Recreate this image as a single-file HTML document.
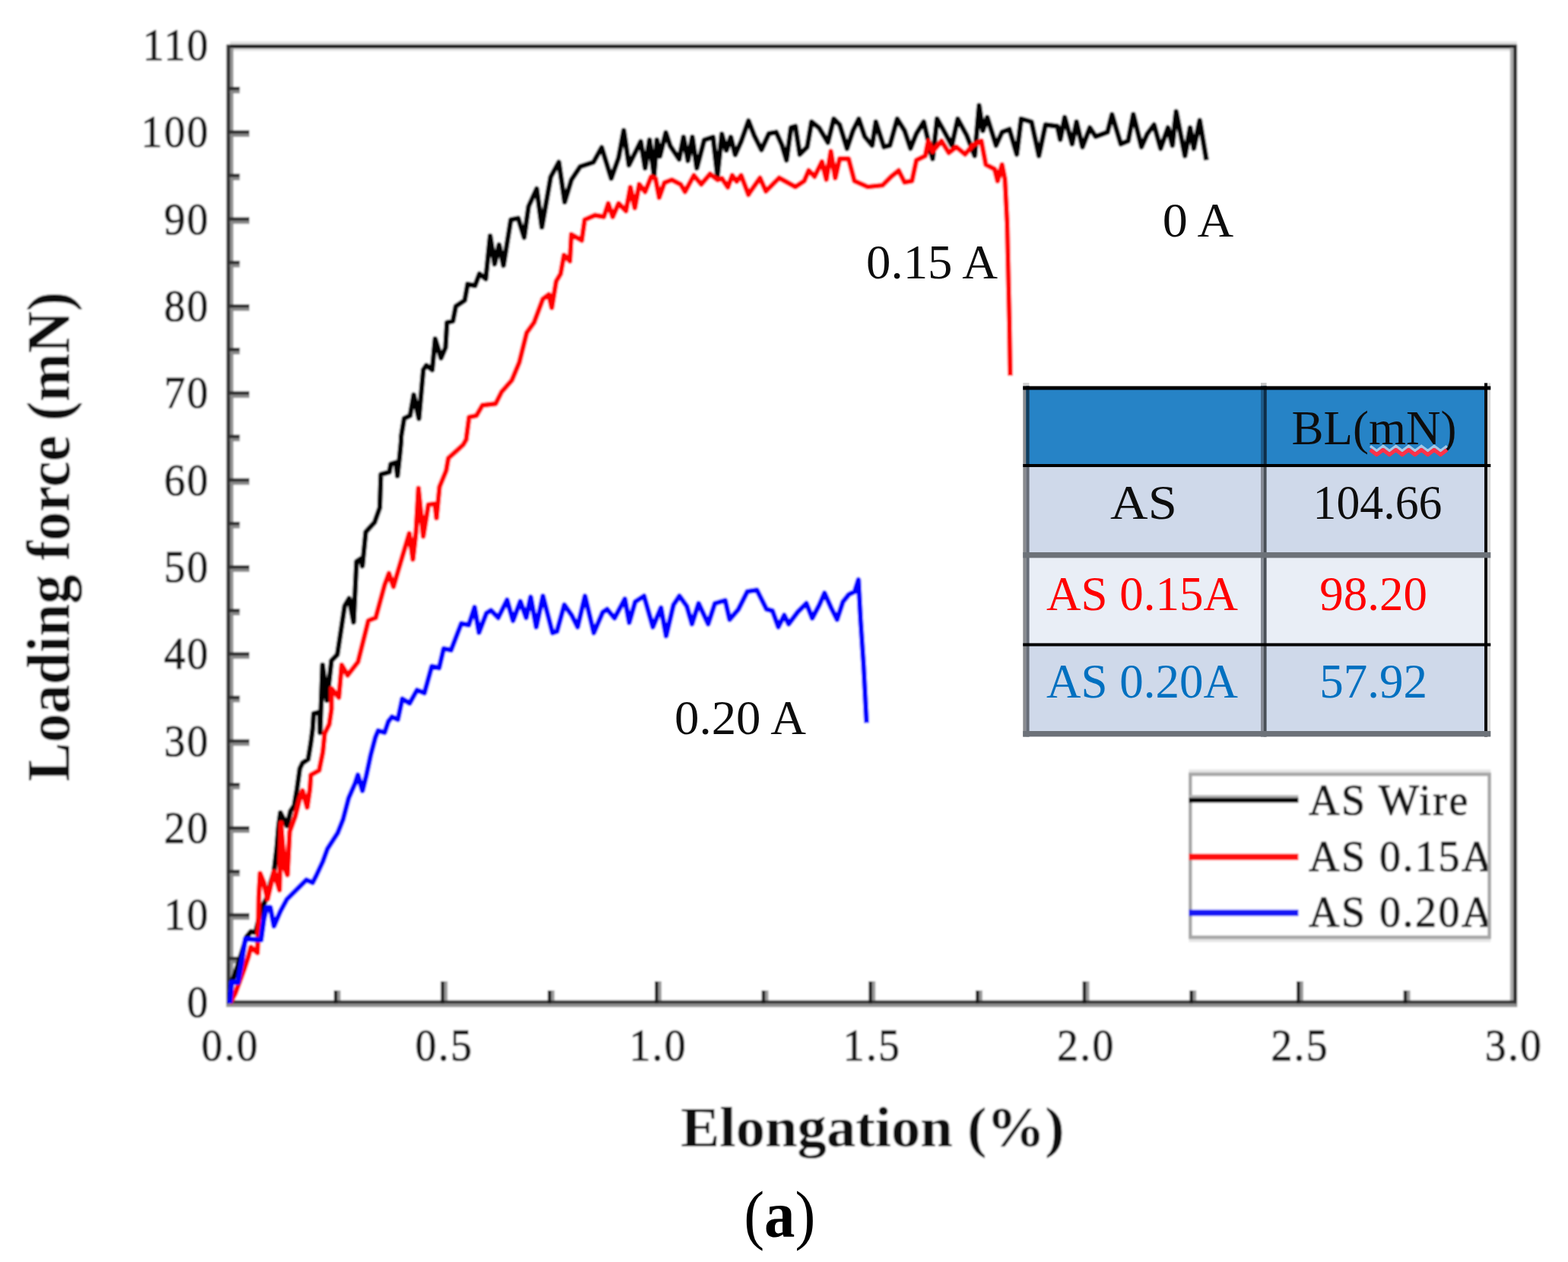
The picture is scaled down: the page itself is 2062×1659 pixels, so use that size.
<!DOCTYPE html>
<html lang="en"><head><meta charset="utf-8"><title>Loading force vs elongation</title>
<style>html,body{margin:0;padding:0;background:#fff;}body{width:2062px;height:1659px;overflow:hidden;}svg{display:block;}text{font-family:"Liberation Serif","DejaVu Serif",serif;}</style>
</head><body>
<svg width="2062" height="1659" viewBox="0 0 2062 1659">
<rect x="0" y="0" width="2062" height="1659" fill="#fff"/>
<defs><filter id="soft" x="0" y="0" width="2062" height="1659" filterUnits="userSpaceOnUse"><feGaussianBlur stdDeviation="1.2"/></filter><filter id="soft2" x="0" y="0" width="2062" height="1659" filterUnits="userSpaceOnUse"><feGaussianBlur stdDeviation="0.6"/></filter></defs>
<g id="chart" filter="url(#soft)">
<rect x="0" y="0" width="2062" height="1659" fill="#fff"/>
<g id="frame">
<rect x="302.5" y="54.5" width="1692.3" height="12.6" fill="#e2e2e2"/>
<rect x="298" y="58.6" width="1696.8" height="4.8" fill="#0c0c0c"/>
<rect x="302.5" y="62.9" width="4.5" height="1256" fill="#969696"/>
<rect x="297.7" y="59" width="5.1" height="1264.8" fill="#333"/>
<rect x="1985.8" y="62.9" width="4.7" height="1256" fill="#acacac"/>
<rect x="1990.2" y="59" width="4.9" height="1264.8" fill="#262626"/>
<rect x="298" y="1319.1" width="1696.8" height="4.9" fill="#939393"/>
<rect x="298" y="1314.9" width="1696.8" height="4.5" fill="#363636"/>
</g>
<g id="ticks">
<rect x="302.5" y="1262.1" width="12.8" height="4.3" fill="#8a8a8a"/>
<rect x="300" y="1257.7" width="15.3" height="4.6" fill="#2e2e2e"/>
<rect x="302.5" y="1204.9" width="25.5" height="4.3" fill="#8a8a8a"/>
<rect x="300" y="1200.5" width="28.0" height="4.6" fill="#2e2e2e"/>
<rect x="302.5" y="1147.8" width="12.8" height="4.3" fill="#8a8a8a"/>
<rect x="300" y="1143.4" width="15.3" height="4.6" fill="#2e2e2e"/>
<rect x="302.5" y="1090.6" width="25.5" height="4.3" fill="#8a8a8a"/>
<rect x="300" y="1086.2" width="28.0" height="4.6" fill="#2e2e2e"/>
<rect x="302.5" y="1033.4" width="12.8" height="4.3" fill="#8a8a8a"/>
<rect x="300" y="1029.0" width="15.3" height="4.6" fill="#2e2e2e"/>
<rect x="302.5" y="976.2" width="25.5" height="4.3" fill="#8a8a8a"/>
<rect x="300" y="971.8" width="28.0" height="4.6" fill="#2e2e2e"/>
<rect x="302.5" y="919.0" width="12.8" height="4.3" fill="#8a8a8a"/>
<rect x="300" y="914.6" width="15.3" height="4.6" fill="#2e2e2e"/>
<rect x="302.5" y="861.8" width="25.5" height="4.3" fill="#8a8a8a"/>
<rect x="300" y="857.4" width="28.0" height="4.6" fill="#2e2e2e"/>
<rect x="302.5" y="804.7" width="12.8" height="4.3" fill="#8a8a8a"/>
<rect x="300" y="800.3" width="15.3" height="4.6" fill="#2e2e2e"/>
<rect x="302.5" y="747.5" width="25.5" height="4.3" fill="#8a8a8a"/>
<rect x="300" y="743.1" width="28.0" height="4.6" fill="#2e2e2e"/>
<rect x="302.5" y="690.3" width="12.8" height="4.3" fill="#8a8a8a"/>
<rect x="300" y="685.9" width="15.3" height="4.6" fill="#2e2e2e"/>
<rect x="302.5" y="633.1" width="25.5" height="4.3" fill="#8a8a8a"/>
<rect x="300" y="628.7" width="28.0" height="4.6" fill="#2e2e2e"/>
<rect x="302.5" y="575.9" width="12.8" height="4.3" fill="#8a8a8a"/>
<rect x="300" y="571.5" width="15.3" height="4.6" fill="#2e2e2e"/>
<rect x="302.5" y="518.8" width="25.5" height="4.3" fill="#8a8a8a"/>
<rect x="300" y="514.4" width="28.0" height="4.6" fill="#2e2e2e"/>
<rect x="302.5" y="461.6" width="12.8" height="4.3" fill="#8a8a8a"/>
<rect x="300" y="457.2" width="15.3" height="4.6" fill="#2e2e2e"/>
<rect x="302.5" y="404.4" width="25.5" height="4.3" fill="#8a8a8a"/>
<rect x="300" y="400.0" width="28.0" height="4.6" fill="#2e2e2e"/>
<rect x="302.5" y="347.2" width="12.8" height="4.3" fill="#8a8a8a"/>
<rect x="300" y="342.8" width="15.3" height="4.6" fill="#2e2e2e"/>
<rect x="302.5" y="290.0" width="25.5" height="4.3" fill="#8a8a8a"/>
<rect x="300" y="285.6" width="28.0" height="4.6" fill="#2e2e2e"/>
<rect x="302.5" y="232.8" width="12.8" height="4.3" fill="#8a8a8a"/>
<rect x="300" y="228.4" width="15.3" height="4.6" fill="#2e2e2e"/>
<rect x="302.5" y="175.7" width="25.5" height="4.3" fill="#8a8a8a"/>
<rect x="300" y="171.3" width="28.0" height="4.6" fill="#2e2e2e"/>
<rect x="302.5" y="118.5" width="12.8" height="4.3" fill="#8a8a8a"/>
<rect x="300" y="114.1" width="15.3" height="4.6" fill="#2e2e2e"/>
<rect x="443.6" y="1302.0" width="4.3" height="13" fill="#9a9a9a"/>
<rect x="439.1" y="1302.0" width="4.6" height="17.2" fill="#1c1c1c"/>
<rect x="584.2" y="1290.0" width="4.3" height="25" fill="#9a9a9a"/>
<rect x="579.7" y="1290.0" width="4.6" height="29.2" fill="#1c1c1c"/>
<rect x="724.9" y="1302.0" width="4.3" height="13" fill="#9a9a9a"/>
<rect x="720.4" y="1302.0" width="4.6" height="17.2" fill="#1c1c1c"/>
<rect x="865.6" y="1290.0" width="4.3" height="25" fill="#9a9a9a"/>
<rect x="861.1" y="1290.0" width="4.6" height="29.2" fill="#1c1c1c"/>
<rect x="1006.2" y="1302.0" width="4.3" height="13" fill="#9a9a9a"/>
<rect x="1001.7" y="1302.0" width="4.6" height="17.2" fill="#1c1c1c"/>
<rect x="1146.9" y="1290.0" width="4.3" height="25" fill="#9a9a9a"/>
<rect x="1142.4" y="1290.0" width="4.6" height="29.2" fill="#1c1c1c"/>
<rect x="1287.6" y="1302.0" width="4.3" height="13" fill="#9a9a9a"/>
<rect x="1283.1" y="1302.0" width="4.6" height="17.2" fill="#1c1c1c"/>
<rect x="1428.2" y="1290.0" width="4.3" height="25" fill="#9a9a9a"/>
<rect x="1423.7" y="1290.0" width="4.6" height="29.2" fill="#1c1c1c"/>
<rect x="1568.9" y="1302.0" width="4.3" height="13" fill="#9a9a9a"/>
<rect x="1564.4" y="1302.0" width="4.6" height="17.2" fill="#1c1c1c"/>
<rect x="1709.6" y="1290.0" width="4.3" height="25" fill="#9a9a9a"/>
<rect x="1705.1" y="1290.0" width="4.6" height="29.2" fill="#1c1c1c"/>
<rect x="1850.2" y="1302.0" width="4.3" height="13" fill="#9a9a9a"/>
<rect x="1845.7" y="1302.0" width="4.6" height="17.2" fill="#1c1c1c"/>
</g>
<g id="curves">
<polyline points="302.1,1319.0 304.5,1290.0 308.2,1282.8 313.0,1268.0 318.0,1252.0 324.0,1232.0 330.0,1224.6 336.0,1226.0 341.0,1205.0 347.0,1188.2 352.0,1178.0 356.0,1160.0 360.3,1145.8 364.0,1115.0 366.4,1085.5 368.8,1068.5 377.3,1085.5 382.1,1066.1 387.0,1058.8 390.6,1037.0 394.3,1010.3 397.9,1003.0 405.2,998.2 408.8,976.4 411.2,958.2 412.5,938.0 420.5,936.0 420.9,963.0 424.2,874.1 430.0,920.7 435.9,868.3 443.6,860.5 453.3,796.4 459.1,786.7 465.0,817.8 468.9,738.2 474.7,734.3 476.6,744.0 481.0,699.3 492.6,686.7 499.4,667.3 500.9,623.6 512.0,620.7 514.0,610.0 520.7,608.0 522.7,625.6 525.6,599.4 527.5,580.0 527.6,573.5 531.5,550.2 539.3,546.3 544.1,519.1 550.9,550.2 556.7,486.2 560.6,480.3 568.4,486.2 572.3,445.4 580.0,470.6 585.9,457.0 587.8,424.0 595.6,422.1 599.4,402.7 611.1,394.9 615.0,373.6 624.7,375.5 630.5,360.0 638.8,366.5 644.6,310.2 650.5,347.1 656.3,321.8 662.1,349.0 671.8,288.9 681.5,286.9 689.3,312.1 695.1,271.4 705.8,248.1 712.6,298.6 724.2,232.6 734.9,213.2 742.6,265.6 751.4,236.4 763.0,219.0 780.5,213.2 791.2,193.8 803.8,234.5 813.5,207.3 820.3,171.4 827.1,217.0 842.6,186.0 848.4,220.9 854.2,184.0 860.1,230.6 863.9,184.0 867.8,205.4 875.6,174.3 881.4,191.8 893.1,209.3 898.9,180.2 904.7,211.2 910.5,180.2 916.4,220.9 926.1,184.0 937.7,180.2 943.5,230.6 949.3,176.3 955.2,197.6 961.0,180.2 966.8,203.5 974.6,186.0 984.3,158.8 991.6,177.6 1001.3,197.0 1011.1,175.7 1020.8,173.8 1028.5,191.2 1034.3,210.6 1040.2,167.9 1046.0,166.0 1051.8,202.9 1061.5,193.2 1067.3,160.2 1077.0,167.9 1088.7,187.3 1096.4,156.3 1104.2,164.0 1113.9,195.1 1121.7,171.8 1129.4,156.3 1137.2,179.6 1146.9,191.2 1151.8,160.2 1162.4,193.2 1170.2,191.2 1179.9,156.3 1189.6,171.8 1197.4,195.1 1205.1,175.7 1214.8,160.2 1220.7,185.4 1226.5,208.7 1232.3,156.3 1240.1,169.9 1251.7,191.2 1259.5,156.3 1271.1,177.6 1281.8,204.8 1287.6,138.8 1292.5,171.8 1298.3,154.3 1309.9,191.2 1317.7,173.8 1327.4,169.9 1337.1,202.9 1342.9,156.3 1356.5,160.2 1366.2,204.8 1374.9,164.0 1390.5,166.0 1394.3,183.5 1400.2,154.3 1409.9,189.3 1415.7,160.2 1423.5,193.2 1433.2,167.9 1440.9,179.6 1456.4,173.8 1462.3,150.5 1473.9,189.3 1483.6,185.4 1490.4,150.5 1501.1,193.2 1508.9,175.7 1517.6,164.0 1526.3,195.1 1536.0,167.9 1541.8,191.2 1546.7,146.6 1558.3,204.8 1565.1,167.9 1570.0,195.1 1577.7,158.2 1586.5,210.6" fill="none" stroke="#000" stroke-width="6.9" stroke-linejoin="round" stroke-linecap="butt"/>
<polyline points="302.1,1319.0 309.4,1305.8 321.5,1273.0 326.4,1258.5 330.0,1245.2 338.5,1252.5 339.7,1220.9 340.3,1178.5 342.1,1148.2 347.0,1160.3 351.8,1182.0 360.3,1145.8 367.6,1170.0 369.5,1082.0 374.0,1140.0 378.0,1150.0 381.0,1093.0 388.2,1073.4 394.3,1049.1 397.9,1039.4 404.0,1061.2 407.6,1037.0 408.8,1018.8 419.7,1012.7 424.6,988.5 427.0,964.2 433.0,952.1 435.9,932.3 435.9,905.1 445.6,916.8 449.4,874.1 457.2,887.7 470.8,870.2 484.4,815.9 494.1,812.0 505.7,769.3 511.5,753.8 517.4,771.2 526.6,740.0 538.2,701.2 543.0,735.2 547.0,700.0 550.3,642.0 556.6,705.0 563.4,663.4 572.0,662.4 574.0,680.9 578.0,640.0 586.7,618.8 589.6,602.3 599.3,593.6 609.0,584.8 613.0,578.0 616.9,548.3 626.6,546.3 634.4,532.7 651.8,530.8 659.6,515.3 673.2,499.7 682.9,476.4 692.6,437.6 702.3,424.0 713.9,393.0 721.7,387.2 725.6,404.6 731.4,369.7 737.2,360.0 741.7,335.4 749.4,343.2 751.4,308.3 765.0,316.0 768.9,288.9 782.4,283.0 794.1,285.0 799.9,267.5 805.7,285.0 813.5,267.5 823.2,277.2 829.0,246.2 834.8,273.3 840.7,242.3 848.4,252.0 856.2,232.6 862.0,234.5 866.9,259.7 873.7,240.3 883.4,236.4 895.0,242.3 900.8,252.0 912.5,230.6 922.2,242.3 933.8,228.7 943.5,236.4 949.3,234.5 957.1,246.2 962.9,230.6 968.8,238.4 974.6,230.6 984.3,255.9 985.8,253.3 999.4,233.9 1007.2,251.4 1024.6,233.9 1046.0,245.6 1057.6,237.8 1063.5,224.2 1071.2,232.0 1080.9,212.6 1086.7,235.9 1092.6,199.0 1098.4,233.9 1104.2,208.7 1115.9,208.7 1123.6,237.8 1141.1,245.6 1160.5,243.6 1172.1,232.0 1181.8,224.2 1189.6,239.7 1199.3,237.8 1205.1,210.6 1216.8,204.8 1220.7,185.4 1226.5,199.0 1238.1,185.4 1247.8,200.9 1257.5,193.2 1269.2,202.9 1278.9,191.2 1290.5,185.4 1296.4,216.4 1308.0,222.3 1311.9,237.8 1317.7,216.4 1321.6,235.9 1324.5,294.1 1327.4,422.0 1328.5,494.0" fill="none" stroke="#f00" stroke-width="6.9" stroke-linejoin="round" stroke-linecap="butt"/>
<polyline points="302.1,1319.0 304.5,1291.3 313.0,1291.3 317.9,1263.4 322.7,1234.3 343.3,1235.5 347.0,1208.8 350.6,1193.0 355.5,1193.0 360.3,1217.3 368.8,1197.9 377.3,1182.1 394.3,1165.2 402.8,1156.7 411.2,1160.3 416.1,1150.6 424.6,1132.4 430.6,1115.8 444.0,1095.2 451.2,1077.0 458.5,1049.1 467.0,1029.7 470.6,1018.8 476.7,1039.4 481.6,1020.0 487.6,992.1 493.7,969.1 497.3,960.6 505.8,963.0 510.7,948.5 515.5,942.4 523.2,945.9 529.0,918.7 538.7,924.5 548.4,907.1 558.1,911.0 567.8,876.0 577.5,878.0 583.4,852.7 593.1,854.7 606.6,819.7 616.4,821.7 624.1,798.4 629.9,831.4 639.6,806.2 645.5,802.3 655.2,812.0 666.8,788.7 674.6,815.9 684.3,790.6 692.0,812.0 697.9,784.8 705.2,824.2 714.0,783.5 726.6,832.0 732.4,830.0 742.1,795.1 751.8,808.7 759.6,824.2 769.3,783.5 780.9,832.0 792.6,804.8 798.4,800.9 808.1,812.6 821.7,787.3 827.5,818.4 835.3,791.2 846.9,783.5 858.6,824.2 869.2,799.0 876.0,835.9 885.7,795.1 893.5,783.5 903.2,797.0 910.0,820.3 918.7,793.2 931.3,820.3 940.1,793.2 953.7,789.3 959.5,814.5 971.1,800.9 982.8,777.6 995.4,775.7 1008.0,800.9 1015.8,802.9 1023.5,824.2 1031.3,808.7 1037.1,820.3 1048.8,804.8 1060.4,793.2 1068.2,812.6 1077.5,795.1 1084.3,779.6 1093.0,799.0 1100.8,814.5 1108.5,791.2 1116.3,781.5 1124.0,777.6 1128.9,762.1 1131.8,816.4 1135.7,874.7 1139.6,950.4" fill="none" stroke="#0000ff" stroke-width="6.9" stroke-linejoin="round" stroke-linecap="butt"/>
</g>
<g id="ticklabels" font-size="60" fill="#141414" stroke="#141414" stroke-width="1.1" letter-spacing="2.4">
<text transform="translate(276,1336.8) scale(0.93,1)" text-anchor="end">0</text>
<text transform="translate(276,1222.4) scale(0.93,1)" text-anchor="end">10</text>
<text transform="translate(276,1108.1) scale(0.93,1)" text-anchor="end">20</text>
<text transform="translate(276,993.7) scale(0.93,1)" text-anchor="end">30</text>
<text transform="translate(276,879.3) scale(0.93,1)" text-anchor="end">40</text>
<text transform="translate(276,765.0) scale(0.93,1)" text-anchor="end">50</text>
<text transform="translate(276,650.6) scale(0.93,1)" text-anchor="end">60</text>
<text transform="translate(276,536.3) scale(0.93,1)" text-anchor="end">70</text>
<text transform="translate(276,421.9) scale(0.93,1)" text-anchor="end">80</text>
<text transform="translate(276,307.5) scale(0.93,1)" text-anchor="end">90</text>
<text transform="translate(276,193.2) scale(0.93,1)" text-anchor="end">100</text>
<text transform="translate(276,78.8) scale(0.93,1)" text-anchor="end">110</text>
<text transform="translate(303.0,1394) scale(0.93,1)" text-anchor="middle">0.0</text>
<text transform="translate(584.3,1394) scale(0.93,1)" text-anchor="middle">0.5</text>
<text transform="translate(865.7,1394) scale(0.93,1)" text-anchor="middle">1.0</text>
<text transform="translate(1147.0,1394) scale(0.93,1)" text-anchor="middle">1.5</text>
<text transform="translate(1428.3,1394) scale(0.93,1)" text-anchor="middle">2.0</text>
<text transform="translate(1709.7,1394) scale(0.93,1)" text-anchor="middle">2.5</text>
<text transform="translate(1991.0,1394) scale(0.93,1)" text-anchor="middle">3.0</text>
</g>
<text transform="translate(1147.5,1507) scale(1.05,1)" font-size="73" font-weight="bold" text-anchor="middle" fill="#111">Elongation (%)</text>
<text transform="translate(91,705.5) rotate(-90) scale(0.955,1)" font-size="80" font-weight="bold" text-anchor="middle" fill="#111">Loading force (mN)</text>
<g id="legend">
<rect x="1563.4" y="1011.5" width="397" height="227" fill="#e6e6e6"/>
<rect x="1565.3" y="1017.9" width="393.3" height="214.2" fill="#fff"/>
<clipPath id="legclip"><rect x="1700" y="1018" width="256.5" height="214"/></clipPath>
<g font-size="56" fill="#141414" stroke="#141414" stroke-width="1.1" letter-spacing="2.5" clip-path="url(#legclip)">
<text x="1721" y="1071">AS Wire</text>
<text x="1721" y="1144.5">AS 0.15A</text>
<text x="1721" y="1218">AS 0.20A</text>
</g>
<rect x="1565.3" y="1017.9" width="393.3" height="214.2" fill="none" stroke="#a6a6a6" stroke-width="4.6"/>
<rect x="1563.4" y="1045.2" width="144" height="4.3" fill="#b4b4b4"/>
<rect x="1563.4" y="1048.8" width="144" height="6.4" fill="#000"/>
<rect x="1563.4" y="1122.3" width="144" height="8.4" fill="#ff1010"/>
<rect x="1563.4" y="1195.8" width="144" height="8.4" fill="#1818f5"/>
</g>
</g>
<g id="overlay" filter="url(#soft2)">
<g font-size="63" fill="#111">
<text transform="translate(1575.5,310.5) scale(1.05,1)" text-anchor="middle">0 A</text>
<text transform="translate(1225.5,366) scale(1.03,1)" text-anchor="middle">0.15 A</text>
<text transform="translate(973.5,965) scale(1.03,1)" text-anchor="middle">0.20 A</text>
</g>
<g id="table">
<rect x="1349" y="510" width="605" height="102" fill="#2683c6"/>
<rect x="1349" y="612" width="605" height="118" fill="#cfd9ea"/>
<rect x="1349" y="730" width="605" height="117" fill="#e9eef6"/>
<rect x="1349" y="847" width="605" height="118" fill="#cfd9ea"/>
<rect x="1345.3" y="503.3" width="8.2" height="5" fill="#cfcfcf"/>
<rect x="1345.3" y="507.6" width="4.2" height="461" fill="#898b8f"/>
<rect x="1349.4" y="507.6" width="4.2" height="461" fill="#666c76"/>
<rect x="1349.4" y="507.6" width="4.2" height="106" fill="#0e3d60"/>
<rect x="1658" y="503.3" width="7.6" height="5" fill="#c4c4c4"/>
<rect x="1658" y="507.6" width="3.9" height="461" fill="#858a94"/>
<rect x="1661.8" y="507.6" width="3.8" height="461" fill="#4a4f57"/>
<rect x="1658" y="507.6" width="3.9" height="106" fill="#1c5a8a"/>
<rect x="1661.8" y="507.6" width="3.8" height="106" fill="#0b2f4a"/>
<rect x="1952" y="503.5" width="4.2" height="465" fill="#0c0c0c"/>
<rect x="1956.2" y="503.5" width="4" height="465" fill="#d9d9d9"/>
<rect x="1345.3" y="507.6" width="615" height="4.9" fill="#000"/>
<rect x="1345.3" y="610" width="615" height="4" fill="#000"/>
<rect x="1345.3" y="726" width="615" height="7.4" fill="#6d7279"/>
<rect x="1345.3" y="845.5" width="615" height="4" fill="#000"/>
<rect x="1345.3" y="961" width="615" height="7.4" fill="#6d7279"/>
<g font-size="63" text-anchor="middle">
<text x="1807" y="584" fill="#111">BL(mN)</text>
<path d="M1802.0 586.3 L1810.4 592.7 L1818.8 586.3 L1827.2 592.7 L1835.6 586.3 L1844.0 592.7 L1852.4 586.3 L1860.8 592.7 L1869.2 586.3 L1877.6 592.7 L1886.0 586.3 L1894.4 592.7 L1902.8 586.3" fill="none" stroke="#cfe0f2" stroke-opacity="0.75" stroke-width="3.4"/>
<path d="M1802.0 591.3 L1810.4 597.7 L1818.8 591.3 L1827.2 597.7 L1835.6 591.3 L1844.0 597.7 L1852.4 591.3 L1860.8 597.7 L1869.2 591.3 L1877.6 597.7 L1886.0 591.3 L1894.4 597.7 L1902.8 591.3" fill="none" stroke="#ff3348" stroke-width="5.2" stroke-linejoin="round"/>
<text transform="translate(1504,682) scale(1.09,1)" fill="#111">AS</text>
<text transform="translate(1811.5,682) scale(0.98,1)" fill="#111">104.66</text>
<text x="1502" y="801.5" fill="#f00">AS 0.15A</text>
<text x="1806" y="801.5" fill="#f00">98.20</text>
<text x="1502" y="917" fill="#0070c0">AS 0.20A</text>
<text x="1806" y="917" fill="#0070c0">57.92</text>
</g></g>
</g>
<text transform="translate(1025.3,1626) scale(0.94,1)" font-size="86" text-anchor="middle" fill="#000">(<tspan font-weight="bold">a</tspan>)</text>
</svg>
</body></html>
